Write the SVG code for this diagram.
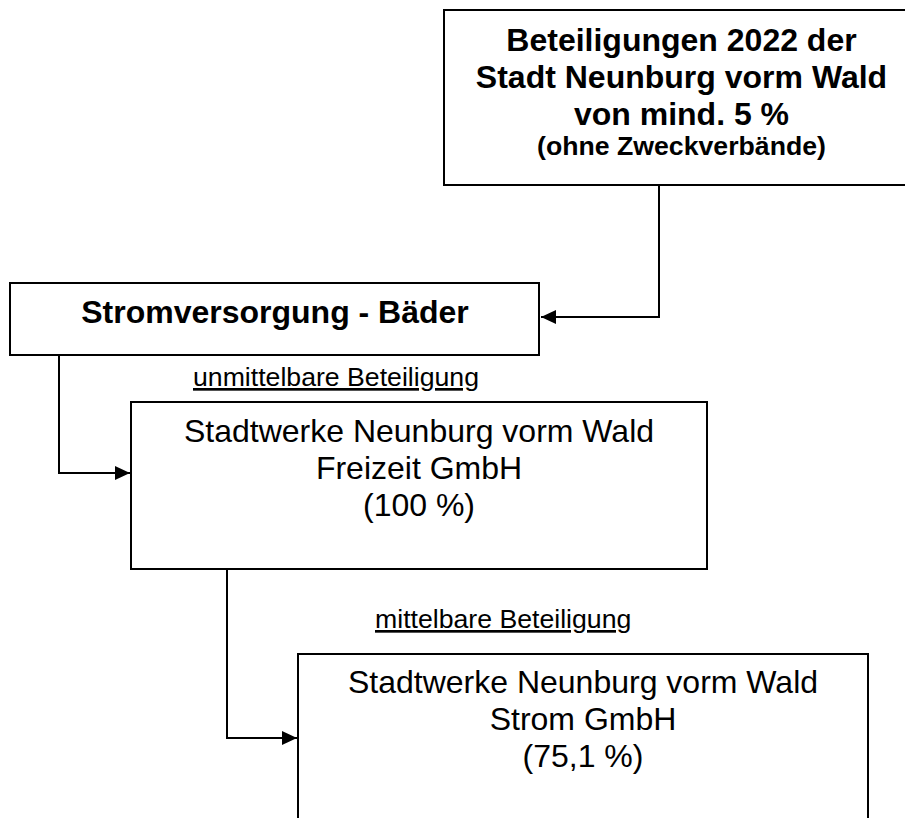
<svg xmlns="http://www.w3.org/2000/svg" width="905" height="818" viewBox="0 0 905 818">
<style>
.box{fill:#fff;stroke:#000;stroke-width:2}
.t{font-family:"Liberation Sans",Arial,sans-serif;fill:#000;text-anchor:middle}
.big{font-size:32px}
.b{font-weight:bold}
.sm{font-size:26.67px}
.lbl{font-family:"Liberation Sans",Arial,sans-serif;font-size:26.67px;fill:#000;text-decoration:underline}
.c{fill:none;stroke:#000;stroke-width:2}
</style>
<defs>
<marker id="arr" markerWidth="16" markerHeight="14" refX="15" refY="7" orient="auto" markerUnits="userSpaceOnUse">
<path d="M0,0 L15,7 L0,14 Z" fill="#000"/>
</marker>
</defs>
<rect width="905" height="818" fill="#fff"/>
<g id="connectors">
<polyline class="c" points="659,186 659,317 541,317" marker-end="url(#arr)"/>
<polyline class="c" points="59,355 59,473 130,473" marker-end="url(#arr)"/>
<polyline class="c" points="227,569 227,738 297,738" marker-end="url(#arr)"/>
</g>
<g id="title">
<rect class="box" x="444" y="10" width="476" height="175"/>
<text class="t big b" x="681.5" y="51">Beteiligungen 2022 der</text>
<text class="t big b" x="681.5" y="88">Stadt Neunburg vorm Wald</text>
<text class="t big b" x="681.5" y="125">von mind. 5 %</text>
<text class="t sm b" x="681.5" y="155">(ohne Zweckverbände)</text>
</g>
<g id="stromversorgung">
<rect class="box" x="10" y="283" width="529" height="72"/>
<text class="t big b" x="275" y="323">Stromversorgung - Bäder</text>
</g>
<g id="label-unmittelbar">
<text class="lbl" x="193" y="386">unmittelbare Beteiligung</text>
</g>
<g id="freizeit">
<rect class="box" x="131" y="402" width="576" height="167"/>
<text class="t big" x="419" y="442">Stadtwerke Neunburg vorm Wald</text>
<text class="t big" x="419" y="479">Freizeit GmbH</text>
<text class="t big" x="419" y="516">(100 %)</text>
</g>
<g id="label-mittelbar">
<text class="lbl" x="375" y="628">mittelbare Beteiligung</text>
</g>
<g id="strom">
<rect class="box" x="298" y="654" width="570" height="180"/>
<text class="t big" x="583" y="693">Stadtwerke Neunburg vorm Wald</text>
<text class="t big" x="583" y="730">Strom GmbH</text>
<text class="t big" x="583" y="767">(75,1 %)</text>
</g>
</svg>
